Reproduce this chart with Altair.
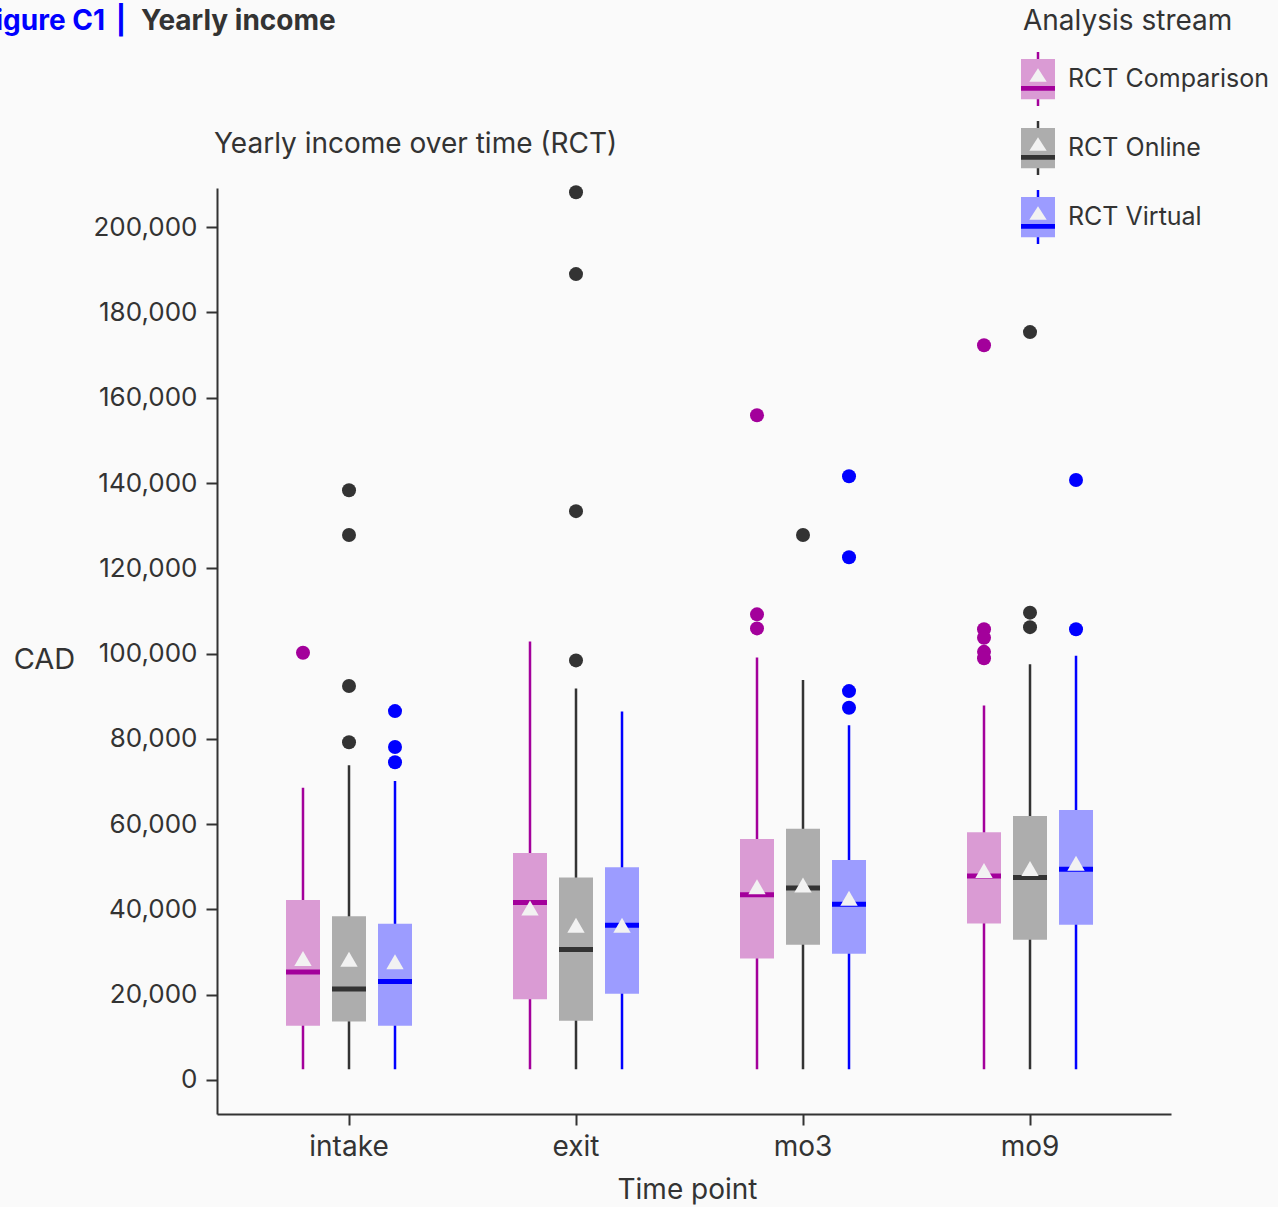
import altair as alt
import pandas as pd

# ---------------- data ----------------
time_points = ["intake", "exit", "mo3", "mo9"]
streams = ["RCT Comparison", "RCT Online", "RCT Virtual"]

# per stream, values for intake, exit, mo3, mo9 (CAD)
whisker_low = {
    "RCT Comparison": [2500, 2500, 2500, 2500],
    "RCT Online": [2500, 2500, 2500, 2500],
    "RCT Virtual": [2500, 2500, 2500, 2500],
}
q1 = {
    "RCT Comparison": [12700, 18900, 28500, 36700],
    "RCT Online": [13700, 13900, 31700, 32900],
    "RCT Virtual": [12700, 20200, 29600, 36400],
}
median = {
    "RCT Comparison": [25300, 41600, 43400, 47800],
    "RCT Online": [21300, 30600, 45000, 47500],
    "RCT Virtual": [23100, 36300, 41200, 49400],
}
q3 = {
    "RCT Comparison": [42200, 53200, 56500, 58100],
    "RCT Online": [38400, 47500, 58900, 61900],
    "RCT Virtual": [36600, 49900, 51600, 63300],
}
whisker_high = {
    "RCT Comparison": [68500, 102800, 99100, 87800],
    "RCT Online": [73800, 91800, 93800, 97500],
    "RCT Virtual": [70100, 86400, 83200, 99500],
}
mean = {
    "RCT Comparison": [28500, 40300, 45300, 49100],
    "RCT Online": [28300, 36300, 45700, 49600],
    "RCT Virtual": [27700, 36300, 42600, 50800],
}
outliers = {
    "RCT Comparison": {"intake": [100200], "exit": [],
                       "mo3": [155900, 109200, 105900],
                       "mo9": [172300, 105700, 103700, 100400, 98900]},
    "RCT Online": {"intake": [138300, 127800, 92400, 79200],
                   "exit": [208200, 189000, 133400, 98400],
                   "mo3": [127800],
                   "mo9": [175400, 109600, 106200]},
    "RCT Virtual": {"intake": [86500, 78100, 74500], "exit": [],
                    "mo3": [141600, 122600, 91200, 87300],
                    "mo9": [140700, 105700]},
}
y_ticks = [0, 20000, 40000, 60000, 80000, 100000, 120000, 140000,
           160000, 180000, 200000]

header_texts = ["Figure C1", "|", "Yearly income"]
subtitle_text = ["Yearly income over time (RCT)"]

# ---------------- styling ----------------
FONT = "Inter"
TXT = "#333333"
box_fill = ["#DA9BD4", "#ADADAD", "#9C9CFF"]
dark = ["#A3009B", "#333333", "#0000FF"]
mean_color = ["#F2F2F2", "#F2F2F2", "#F2F2F2"]

rows = []
for s in streams:
    for i, t in enumerate(time_points):
        rows.append(dict(stream=s, time=t, lo=whisker_low[s][i], q1=q1[s][i],
                         med=median[s][i], q3=q3[s][i], hi=whisker_high[s][i],
                         mean=mean[s][i]))
stats = pd.DataFrame(rows)
orows = []
for s in streams:
    for t in time_points:
        for v in outliers[s][t]:
            orows.append(dict(stream=s, time=t, value=v))
out_df = pd.DataFrame(orows)

x_enc = alt.X("time:N", sort=time_points,
              scale=alt.Scale(domain=time_points, paddingInner=0.3,
                              paddingOuter=0.2513, align=0.4606),
              axis=alt.Axis(title="Time point", labelAngle=0, labelFontSize=28,
                            labelPadding=8, titleFontSize=28, titleX=470,
                            titleY=76, titleBaseline="middle"))
xo_enc = alt.XOffset("stream:N", sort=streams,
                     scale=alt.Scale(domain=streams, paddingInner=0.261,
                                     paddingOuter=0.3575))
y_scale = alt.Scale(domain=[-8000, 209200], nice=False, zero=False)
y_axis = alt.Axis(title="CAD", values=y_ticks, format=",d", labelFontSize=26,
                  labelPadding=9, titleAngle=0, titleFontSize=29,
                  titleAlign="center", titleBaseline="middle", titleX=-173,
                  titleY=471)

SYM_SIZE = 900
# invisible move-tos give every legend glyph the same bounding box
BOUND = "M-1.133,-1.8M1.133,1.8"
leg_common = dict(orient="none", legendX=806, legendY=-180, direction="vertical",
                  symbolSize=SYM_SIZE, symbolStrokeWidth=0,
                  symbolStrokeColor="transparent",
                  labelOffset=15, title="Analysis stream", titleFont=FONT,
                  titleFontSize=28, titleFontWeight="normal", titlePadding=28,
                  titleLimit=500, labelLimit=400,
                  labelFont=FONT, labelFontSize=25, rowPadding=15,
                  symbolOpacity=1)


def legend(path, visible_text):
    c = TXT if visible_text else "transparent"
    return alt.Legend(symbolType=BOUND + path, titleColor=c, labelColor=c,
                      **leg_common)


base = alt.Chart(stats)

whiskers = base.mark_bar(width=2.5).encode(
    x=x_enc, xOffset=xo_enc,
    y=alt.Y("lo:Q", scale=y_scale, axis=y_axis), y2="hi:Q",
    color=alt.Color("stream:N", scale=alt.Scale(domain=streams, range=dark),
                    legend=legend("M-0.083,-1.8H0.083V1.8H-0.083Z", True)),
)
boxes = base.mark_bar().encode(
    x=x_enc, xOffset=xo_enc,
    y=alt.Y("q1:Q", scale=y_scale), y2="q3:Q",
    color=alt.Color("stream:N", scale=alt.Scale(domain=streams, range=box_fill),
                    legend=legend("M-1.133,-1.333H1.133V1.353H-1.133Z", False)),
)
medians = base.mark_tick(thickness=5, size=34, opacity=1).encode(
    x=x_enc, xOffset=xo_enc,
    y=alt.Y("med:Q", scale=y_scale),
    color=alt.Color("stream:N", scale=alt.Scale(domain=streams, range=dark),
                    legend=legend("M-1.133,0.467H1.133V0.78H-1.133Z", False)),
)
means = base.mark_point(shape="triangle-up", filled=True, size=300,
                        opacity=1).encode(
    x=x_enc, xOffset=xo_enc,
    y=alt.Y("mean:Q", scale=y_scale),
    color=alt.Color("stream:N", scale=alt.Scale(domain=streams, range=mean_color),
                    legend=legend("M0,-0.713L0.58,0.18L-0.58,0.18Z", False)),
)
outs = alt.Chart(out_df).mark_circle(size=196, opacity=1).encode(
    x=x_enc, xOffset=xo_enc,
    y=alt.Y("value:Q", scale=y_scale),
    color=alt.Color("stream:N", scale=alt.Scale(domain=streams, range=dark),
                    legend=None),
)

fig_label = alt.Chart(pd.DataFrame({"t": header_texts[:1]})).mark_text(
    align="right", baseline="alphabetic", font=FONT, fontSize=28,
    fontWeight="bold", color="#0000FF").encode(
    text="t:N", x=alt.value(-112), y=alt.value(-158))
fig_bar = alt.Chart(pd.DataFrame({"t": header_texts[1:2]})).mark_text(
    align="center", baseline="alphabetic", font=FONT, fontSize=28,
    fontWeight="bold", color="#0000FF").encode(
    text="t:N", x=alt.value(-96), y=alt.value(-158))
fig_title = alt.Chart(pd.DataFrame({"t": header_texts[2:]})).mark_text(
    align="left", baseline="alphabetic", font=FONT, fontSize=28,
    fontWeight="bold", color=TXT).encode(
    text="t:N", x=alt.value(-76), y=alt.value(-158))
sub = alt.Chart(pd.DataFrame({"t": subtitle_text})).mark_text(
    align="left", baseline="alphabetic", font=FONT, fontSize=28,
    fontWeight="normal", color=TXT).encode(
    text="t:N", x=alt.value(-3), y=alt.value(-35))

chart = alt.layer(whiskers, boxes, medians, means, outs,
                  fig_label, fig_bar, fig_title, sub).resolve_scale(
    color="independent"
).properties(
    width=954, height=926,
    padding={"left": 217, "top": 188, "right": 107, "bottom": 93},
    autosize=alt.AutoSizeParams(type="none"),
    background="#FAFAFA",
).configure_view(stroke=None).configure_axis(
    domainColor=TXT, domainWidth=2, tickColor=TXT, tickWidth=2, tickSize=11,
    labelColor=TXT, titleColor=TXT, labelFont=FONT, titleFont=FONT,
    titleFontWeight="normal", grid=False,
)

chart.save("out.html", embed_options={"renderer": "svg", "actions": False})
